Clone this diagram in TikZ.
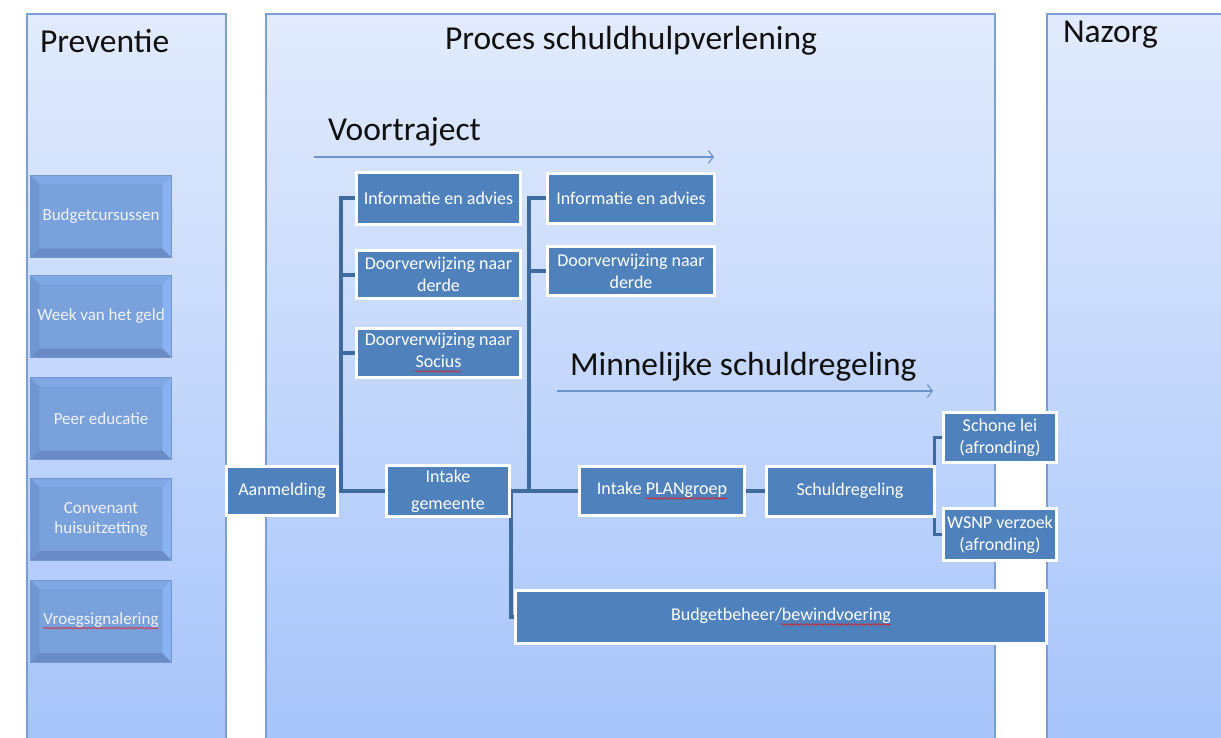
\documentclass[tikz,border=0pt]{standalone}
\usepackage{fontspec}
\setmainfont{Carlito}
\usetikzlibrary{arrows.meta,calc,decorations.pathmorphing}
\pgfdeclarelayer{panels}
\pgfdeclarelayer{lines}
\pgfsetlayers{panels,lines,main}
\definecolor{panelTop}{HTML}{E2EBFD}
\definecolor{panelBot}{HTML}{A6C4FA}
\definecolor{panelEdge}{HTML}{7C9FD3}
\definecolor{titleText}{HTML}{101010}
\definecolor{boxBlue}{HTML}{4F81BD}
\definecolor{linkBlue}{HTML}{3F6A9E}
\definecolor{arrowBlue}{HTML}{6B93CC}
\definecolor{bvFace}{HTML}{79A1DC}
\definecolor{bvTop}{HTML}{80A8E5}
\definecolor{bvRight}{HTML}{88B2F2}
\definecolor{bvBottom}{HTML}{6A8CC6}
\definecolor{bvLeft}{HTML}{7097D2}
\definecolor{bvEdge}{HTML}{7396CF}
\definecolor{spellRed}{HTML}{E02020}
\newsavebox\wavebox
\newcommand\redwave[1]{\sbox\wavebox{#1}\usebox\wavebox\llap{\tikz[baseline=0pt]\draw[spellRed, line width=0.6pt, decorate, decoration={snake, amplitude=0.8pt, segment length=3pt}] (0pt,-3.5pt) -- (\wd\wavebox,-3.5pt);}}
\begin{document}
\begin{tikzpicture}[x=1pt,y=-1pt,
  every node/.style={outer sep=0pt, inner sep=1pt},
  title/.style={font=\fontsize{33.5}{38}\selectfont, text=titleText},
  dbox/.style={fill=boxBlue, draw=white, line width=3pt, text=white, align=center,
    font=\fontsize{18}{22}\selectfont},
  pbox/.style={fill=bvFace, draw=bvEdge, line width=0.8pt, text=white!95!blue, align=center,
    minimum width=141, minimum height=82, font=\fontsize{17}{20}\selectfont,
    path picture={
      \coordinate (nw) at (path picture bounding box.north west);
      \coordinate (ne) at (path picture bounding box.north east);
      \coordinate (sw) at (path picture bounding box.south west);
      \coordinate (se) at (path picture bounding box.south east);
      \fill[bvTop] (nw) -- (ne) -- ([shift={(-9pt,-9pt)}]ne) -- ([shift={(9pt,-9pt)}]nw) -- cycle;
      \fill[bvBottom] (sw) -- (se) -- ([shift={(-9pt,9pt)}]se) -- ([shift={(9pt,9pt)}]sw) -- cycle;
      \fill[bvLeft] (nw) -- (sw) -- ([shift={(9pt,9pt)}]sw) -- ([shift={(9pt,-9pt)}]nw) -- cycle;
      \fill[bvRight] (ne) -- (se) -- ([shift={(-9pt,9pt)}]se) -- ([shift={(-9pt,-9pt)}]ne) -- cycle;
    }},
  link/.style={draw=linkBlue, line width=4pt},
  timeline/.style={draw=arrowBlue, line width=1.1pt, -{Straight Barb[length=5pt,width=13pt]}}
]
\useasboundingbox (0,0) rectangle (1221,738);
\clip (0,0) rectangle (1221,738);

% panels
\begin{pgfonlayer}{panels}
\fill[white] (0,0) rectangle (1221,738);
\shade[top color=panelTop,bottom color=panelBot] (27,14) rectangle (226,745);
\draw[panelEdge, line width=1.2pt] (27,745) -- (27,14) -- (226,14) -- (226,745);
\shade[top color=panelTop,bottom color=panelBot] (266,14) rectangle (995,745);
\draw[panelEdge, line width=1.2pt] (266,745) -- (266,14) -- (995,14) -- (995,745);
\shade[top color=panelTop,bottom color=panelBot] (1047,14) rectangle (1235,745);
\draw[panelEdge, line width=1.2pt] (1047,745) -- (1047,14) -- (1235,14);
\end{pgfonlayer}

% titles
\node[title, anchor=west] (tprev) at (39,41) {Preventie};
\node[title] (tproc) at (631,41) {Proces schuldhulpverlening};
\node[title, anchor=west] (tnaz) at (1062,35) {Nazorg};
\node[title, anchor=west] (tvoor) at (327,132) {Voortraject};
\node[title, anchor=west] (tminn) at (569,367) {Minnelijke schuldregeling};

% timelines
\coordinate (vt1) at (314,157);
\coordinate (vt2) at (714,157);
\coordinate (ms1) at (557,391);
\coordinate (ms2) at (933,391);
\draw[timeline] (vt1) -- (vt2);
\draw[timeline] (ms1) -- (ms2);

% preventie boxes
\node[pbox] (p1) at (101,216.5) {Budgetcursussen};
\node[pbox] (p2) at (101,316.5) {Week van het geld};
\node[pbox] (p3) at (101,418.5) {Peer educatie};
\node[pbox] (p4) at (101,519) {Convenant\\huisuitzetting};
\node[pbox] (p5) at (101,621) {\redwave{Vroegsignalering}};

% process boxes
\node[dbox, minimum width=111, minimum height=49] (aan) at (282,491) {Aanmelding};
\node[dbox, minimum width=164, minimum height=52] (info1) at (438.5,198.5) {Informatie en advies};
\node[dbox, minimum width=164, minimum height=48] (door1) at (438.5,274.5) {Doorverwijzing naar\\derde};
\node[dbox, minimum width=164, minimum height=49] (soc) at (438.5,353) {Doorverwijzing naar\\\redwave{Socius}};
\node[dbox, minimum width=167, minimum height=50] (info2) at (631,198.5) {Informatie en advies};
\node[dbox, minimum width=167, minimum height=49] (door2) at (631,271) {Doorverwijzing naar\\derde};
\node[dbox, minimum width=123, minimum height=51, font=\fontsize{18}{27}\selectfont] (ig) at (448,491) {Intake\\gemeente};
\node[dbox, minimum width=165, minimum height=49] (plan) at (662,491) {Intake \redwave{PLANgroep}};
\node[dbox, minimum width=168, minimum height=50] (sr) at (850,491) {Schuldregeling};
\node[dbox, minimum width=113, minimum height=50] (lei) at (1000,437.5) {Schone lei\\(afronding)};
\node[dbox, minimum width=113, minimum height=52] (wsnp) at (1000,534.5) {WSNP verzoek\\(afronding)};
\node[dbox, minimum width=531, minimum height=53] (bb) at (781,617) {Budgetbeheer/\redwave{bewindvoering}};

% connectors
\coordinate (b1) at (341,491);
\coordinate (b2) at (529,491);
\coordinate (b3) at (934,491);
\begin{pgfonlayer}{lines}
\draw[link] (aan.east) -- (ig.west);
\draw[link] (b1) |- (info1.west);
\draw[link] (b1) |- (door1.west);
\draw[link] (b1) |- (soc.west);
\draw[link] (ig.east) -- (plan.west);
\draw[link] (b2) |- (info2.west);
\draw[link] (b2) |- (door2.west);
\draw[link] ([xshift=1.5pt]ig.east) |- (bb.west);
\draw[link] (plan.east) -- (sr.west);
\draw[link, line width=3pt] (b3) |- (lei.west);
\draw[link, line width=3pt] (b3) |- (wsnp.west);
\end{pgfonlayer}
\end{tikzpicture}
\end{document}
